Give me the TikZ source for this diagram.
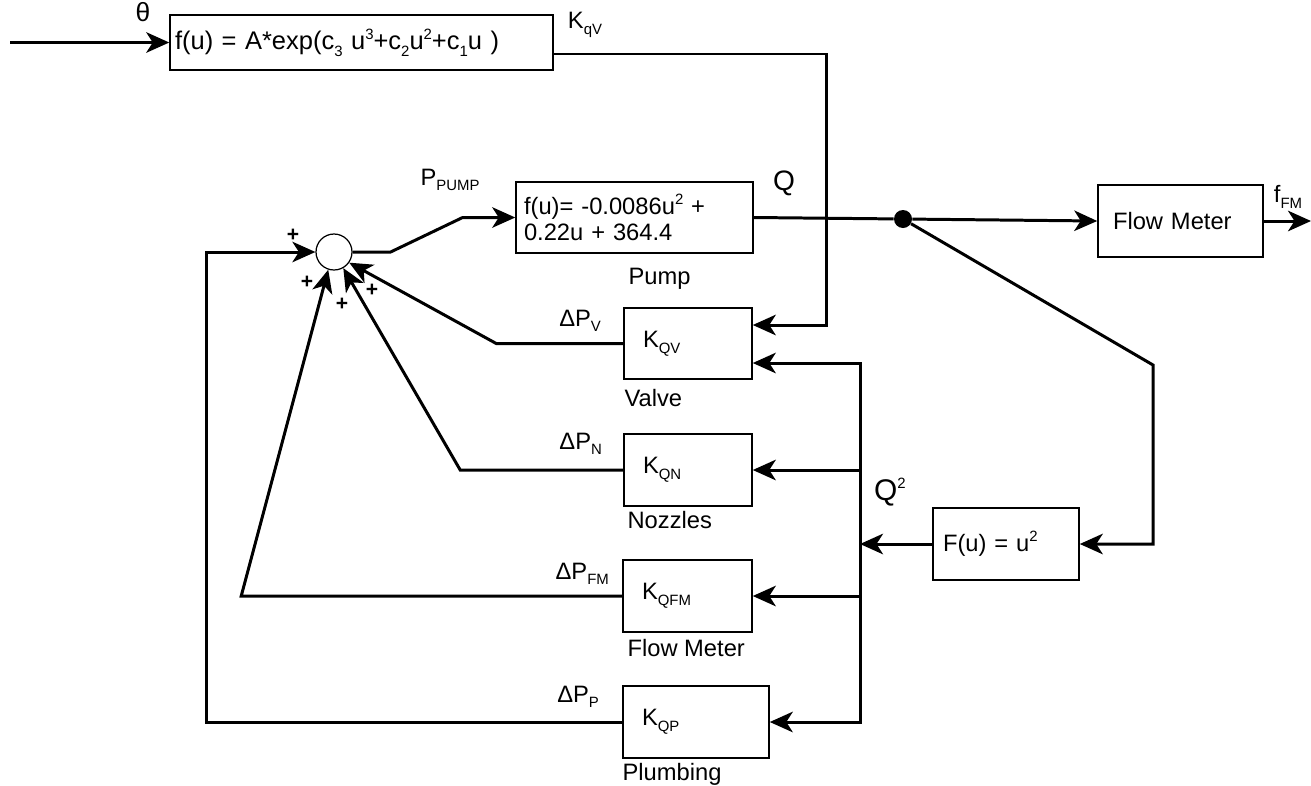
\documentclass[tikz,border=0pt]{standalone}
\usepackage{fontspec}
\setmainfont{Liberation Sans}
\usetikzlibrary{positioning,arrows.meta,calc}

\newcommand{\dn}[1]{\raisebox{-0.45ex}{\fontsize{8.5}{9}\selectfont #1}}
\newcommand{\up}[1]{\raisebox{0.8ex}{\fontsize{8.5}{9}\selectfont #1}}

\begin{document}
\begin{tikzpicture}[x=0.02cm, y=-0.02cm, font=\fontsize{13.5}{15}\selectfont,
  >={Stealth[length=4.6mm, width=4.1mm, inset=1.3mm]},
  blk/.style={draw, line width=0.9pt, inner ysep=0pt, align=left,
              minimum height=1.43cm},
  gain/.style={blk, inner xsep=0.38cm, text width=1.8cm},
  lbl/.style={inner sep=0pt},
  wire/.style={line width=1.7pt},
  plus/.style={inner sep=0pt, font=\fontsize{12}{12}\selectfont\bfseries}]
  \useasboundingbox (0,0) rectangle (1311,785);

  % blocks
  \node[blk, minimum height=1.1cm, inner xsep=0.1cm, text width=7.46cm,
        font=\fontsize{14.5}{16}\selectfont] (kqv) at (361.5,42.5)
        {f(u) = A*exp(c\dn{3} u\up{3}+c\dn{2}u\up{2}+c\dn{1}u )};
  \node[blk, inner xsep=0.16cm, text width=4.42cm] (pump) at (634.5,217.5)
        {f(u)= -0.0086u\up{2} +\\0.22u + 364.4};
  \node[draw, circle, line width=0.7pt, minimum size=0.72cm, inner sep=0pt] (sum) at (334,252) {};
  \node[fill, circle, minimum size=0.36cm, inner sep=0pt] (split) at (903,219) {};
  \node[blk, inner xsep=0.3cm, text width=2.7cm] (meter) at (1180.5,221) {Flow Meter};
  \node[gain] (kv) at (688,343.5) {K\dn{QV}};
  \node[gain] (kn) at (688,470) {K\dn{QN}};
  \node[gain, text width=1.82cm] (kfm) at (687.5,596) {K\dn{QFM}};
  \node[gain, text width=2.16cm] (kp) at (696,722) {K\dn{QP}};
  \node[blk, inner xsep=0.2cm, text width=2.52cm] (square) at (1006,544) {F(u) = u\up{2}};

  % block names
  \node[lbl, below right=0.18cm and 0.02cm of kv.south west] {Valve};
  \node[lbl, below right=0.08cm and 0.08cm of kn.south west] {Nozzles};
  \node[lbl, below right=0.12cm and 0.1cm of kfm.south west] {Flow Meter};
  \node[lbl, below right=0.08cm and 0cm of kp.south west] {Plumbing};
  \node[lbl, below=0.28cm of pump.south, xshift=0.5cm] {Pump};

  % signal names
  \node[lbl, above left=0.23cm and 0.44cm of kv.west] {ΔP\dn{V}};
  \node[lbl, above left=0.3cm and 0.42cm of kn.west] {ΔP\dn{N}};
  \node[lbl, above left=0.22cm and 0.26cm of kfm.west] {ΔP\dn{FM}};
  \node[lbl, above left=0.28cm and 0.46cm of kp.west] {ΔP\dn{P}};
  \node[lbl, font=\fontsize{15}{15}\selectfont] (theta) at (143,12) {θ};
  \node[lbl] (kqvname) at (585,25) {K\dn{qV}};
  \node[lbl] (pumpname) at (450,180) {P\dn{PUMP}};
  \node[lbl, font=\fontsize{16}{16}\selectfont] (qname) at (784,183) {Q};
  \node[lbl, font=\fontsize{17}{17}\selectfont] (q2name) at (890,492) {Q\up{2}};
  \node[lbl] (fname) at (1288,197) {f\dn{FM}};

  % signs at the sum
  \node[plus] at (293,235) {+};
  \node[plus] at (307,282) {+};
  \node[plus] at (342,304) {+};
  \node[plus] at (372,290) {+};

  % forward path
  \coordinate (src) at (10,42.5);
  \coordinate (out) at (1311,221);
  \coordinate (kqvturn) at (826,54);
  \draw[wire,->] (src) -- (kqv.west);
  \draw[wire,->] (kqv.east |- kqvturn) -- (kqvturn) |- ($(kv.east)+(0,-18.5)$);
  \draw[wire,->] (sum.east) -- ++(38,0) -- ++(72,-34.5) -- (pump.west);
  \draw[wire] (pump.east) -- (split);
  \draw[wire,->] (split) -- (meter.west);
  \draw[wire,->] (meter.east) -- (out);

  % squaring branch and Q^2 bus
  \coordinate (sqturn) at (1153,365);
  \coordinate (bus) at (860,544);
  \draw[wire,->] (split) -- (sqturn) |- (square.east);
  \draw[wire,->] (square.west) -- (bus);
  \draw[wire,->] (bus) |- ($(kv.east)+(0,19.5)$);
  \draw[wire,->] (bus) |- (kn.east);
  \draw[wire,->] (bus) |- (kfm.east);
  \draw[wire,->] (bus) |- (kp.east);

  % pressure drops back to the sum
  \draw[wire,->] (kv.west) -- ++(-127,0) -- (sum.-35);
  \draw[wire,->] (kn.west) -- ++(-163,0) -- (sum.-60);
  \draw[wire,->] (kfm.west) -- ++(-381,0) -- (sum.-108);
  \draw[wire,->] (kp.west) -- ++(-416,0) |- (sum.west);
\end{tikzpicture}
\end{document}
